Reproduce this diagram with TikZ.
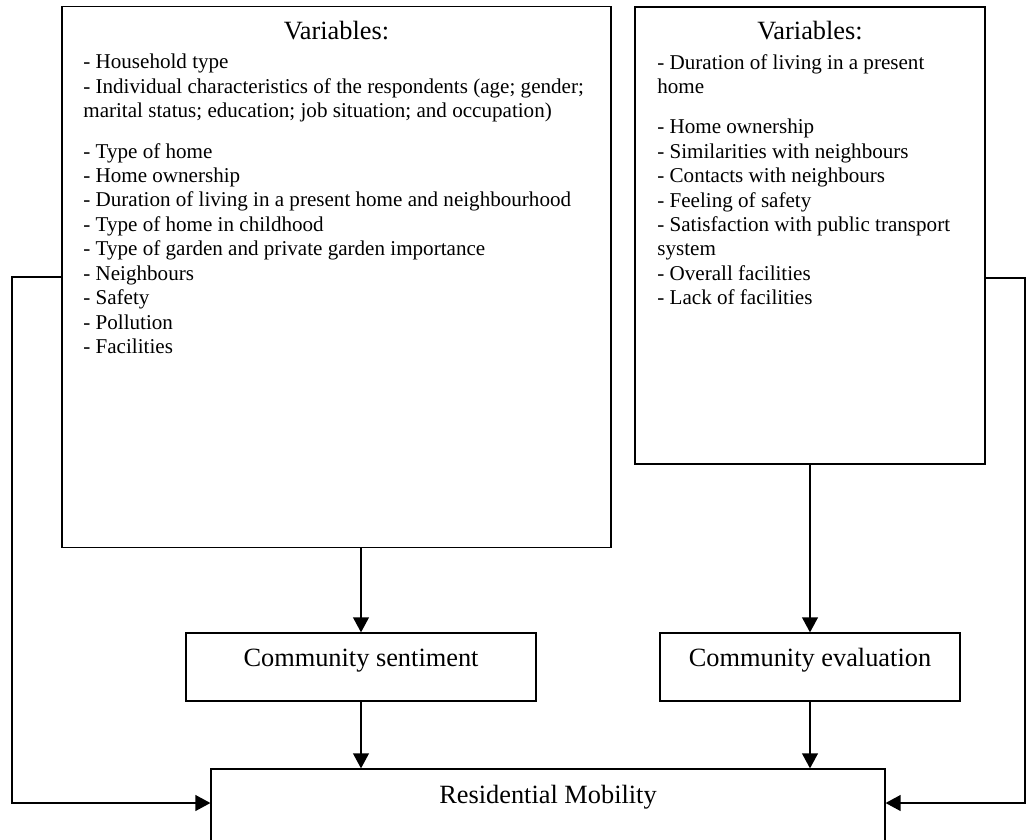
\documentclass[tikz,border=0pt]{standalone}
\usepackage{fontspec}
\setmainfont{Liberation Serif}
\usetikzlibrary{arrows.meta}

\tikzset{
	varbox/.style={draw, line width=0.75pt, inner sep=0pt},
	factor/.style={draw, line width=0.75pt, inner sep=0pt, text height=0.3cm, text depth=0.34cm, font=\fontsize{15}{18}\selectfont},
	vartext/.style={align=left, inner sep=0pt, anchor=north west, font=\fontsize{12}{13.9}\selectfont},
	heading/.style={inner sep=0pt, anchor=base, font=\fontsize{15}{18}\selectfont},
	link/.style={line width=0.75pt, -{Triangle[length=8.5pt, width=9pt]}}
}

\begin{document}
\begin{tikzpicture}[x=0.02cm, y=-0.02cm]
		\useasboundingbox (0, 0) rectangle (1028, 839);
		\node [varbox, minimum width=10.98cm, minimum height=10.82cm] (sentvars) at (336.5, 277) {};
		\node [varbox, minimum width=7cm, minimum height=9.14cm] (evalvars) at (810, 235.5) {};
		\node [factor, minimum width=7cm, minimum height=1.36cm] (sentiment) at (361, 667) {Community sentiment};
		\node [factor, minimum width=6cm, minimum height=1.36cm] (evaluation) at (810, 667) {Community evaluation};
		\node [varbox, minimum width=13.48cm, minimum height=1.62cm] (mobility) at (548, 809.5) {};
		\node [heading] (sentvarshead) at (336.5, 39) {Variables:};
		\node [heading] (evalvarshead) at (810, 39) {Variables:};
		\node [heading] (mobilitytext) at (548, 803) {Residential Mobility};
		\node [vartext] (sentvarslist) at (83, 54) {- Household type \\
			- Individual characteristics of the respondents (age; gender; \\
			marital status; education; job situation; and occupation) \\[9pt]
			- Type of home \\
			- Home ownership \\
			- Duration of living in a present home and neighbourhood \\
			- Type of home in childhood \\
			- Type of garden and private garden importance \\
			- Neighbours \\
			- Safety \\
			- Pollution \\
			- Facilities};
		\node [vartext] (evalvarslist) at (657, 54) {- Duration of living in a present \\
			home \\[9pt]
			- Home ownership \\
			- Similarities with neighbours \\
			- Contacts with neighbours \\
			- Feeling of safety \\
			- Satisfaction with public transport \\
			system \\
			- Overall facilities \\
			- Lack of facilities};
		\coordinate (leftbend) at (12, 277);
		\coordinate (rightbend) at (1025, 278);
		\draw [link] (sentvars.south -| sentiment.north) -- (sentiment.north);
		\draw [link] (evalvars.south) -- (evaluation.north);
		\draw [link] (sentiment.south) -- (sentiment.south |- mobility.north);
		\draw [link] (evaluation.south) -- (evaluation.south |- mobility.north);
		\draw [link] (sentvars.west) -- (leftbend) |- ([yshift=0.13cm]mobility.west);
		\draw [link] (evalvars.east |- rightbend) -- (rightbend) |- ([yshift=0.13cm]mobility.east);
	\end{tikzpicture}
\end{document}
